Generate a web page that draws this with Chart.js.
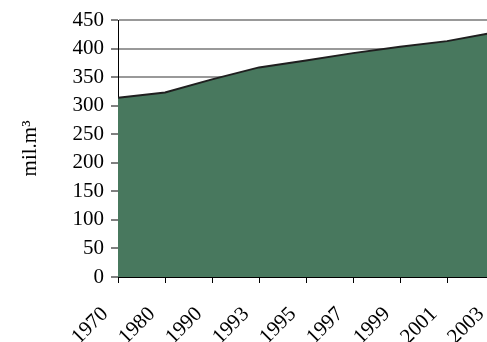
<!DOCTYPE html>
<html>
<head>
<meta charset="utf-8">
<script src="https://cdn.jsdelivr.net/npm/chart.js@4/dist/chart.umd.min.js"></script>
<style>
html,body{margin:0;padding:0;background:#fff;overflow:hidden;width:487px;height:342px;}
#wrap{width:500px;height:342px;}
canvas{display:block;}
</style>
</head>
<body>
<div id="wrap"><canvas id="c" width="500" height="342" style="width:500px;height:342px"></canvas></div>
<script>
const years = ['1970','1980','1990','1993','1995','1997','1999','2001','2003'];
const volumes = [314, 323, 346, 367, 379, 392, 403, 413, 428];
const yTicks = [0, 50, 100, 150, 200, 250, 300, 350, 400, 450];
const yTitle = 'mil.m\u00B3';

const FONT = "'Liberation Serif', 'Times New Roman', serif";

new Chart(document.getElementById('c'), {
  type: 'line',
  data: {
    labels: years,
    datasets: [{
      data: volumes,
      fill: 'origin',
      backgroundColor: '#48785e',
      borderColor: '#1f1f1f',
      borderWidth: 2,
      tension: 0,
      pointRadius: 0
    }]
  },
  options: {
    responsive: false,
    animation: false,
    devicePixelRatio: 1,
    layout: { padding: { top: 20, right: 6, bottom: 0, left: 0 } },
    plugins: { legend: { display: false }, tooltip: { enabled: false } },
    scales: {
      x: {
        type: 'category',
        offset: false,
        grid: { drawOnChartArea: false, drawTicks: true, tickLength: 6, tickColor: '#000', color: '#000' },
        border: { display: true, color: '#000', width: 1 },
        ticks: {
          color: '#000',
          font: { family: FONT, size: 21 },
          minRotation: 45, maxRotation: 45,
          autoSkip: false,
          padding: 19,
          labelOffset: -13
        },
        afterFit(s) { s.height = 65; s.paddingLeft = 0; s.paddingRight = 0; }
      },
      y: {
        min: 0, max: 450,
        afterBuildTicks(s) { s.ticks = yTicks.map(v => ({ value: v })); },
        grid: { color: '#999999', lineWidth: 2, drawTicks: true, tickLength: 7, tickColor: '#000', tickWidth: 1 },
        border: { display: true, color: '#000', width: 1 },
        ticks: { color: '#000', font: { family: FONT, size: 21 }, padding: 7 },
        title: { display: true, text: yTitle, color: '#000', font: { family: FONT, size: 21 }, padding: { top: 18, bottom: 12 } },
        afterFit(s) { s.width = 118; s.paddingTop = 0; s.paddingBottom = 0; }
      }
    }
  }
});
</script>
</body>
</html>
